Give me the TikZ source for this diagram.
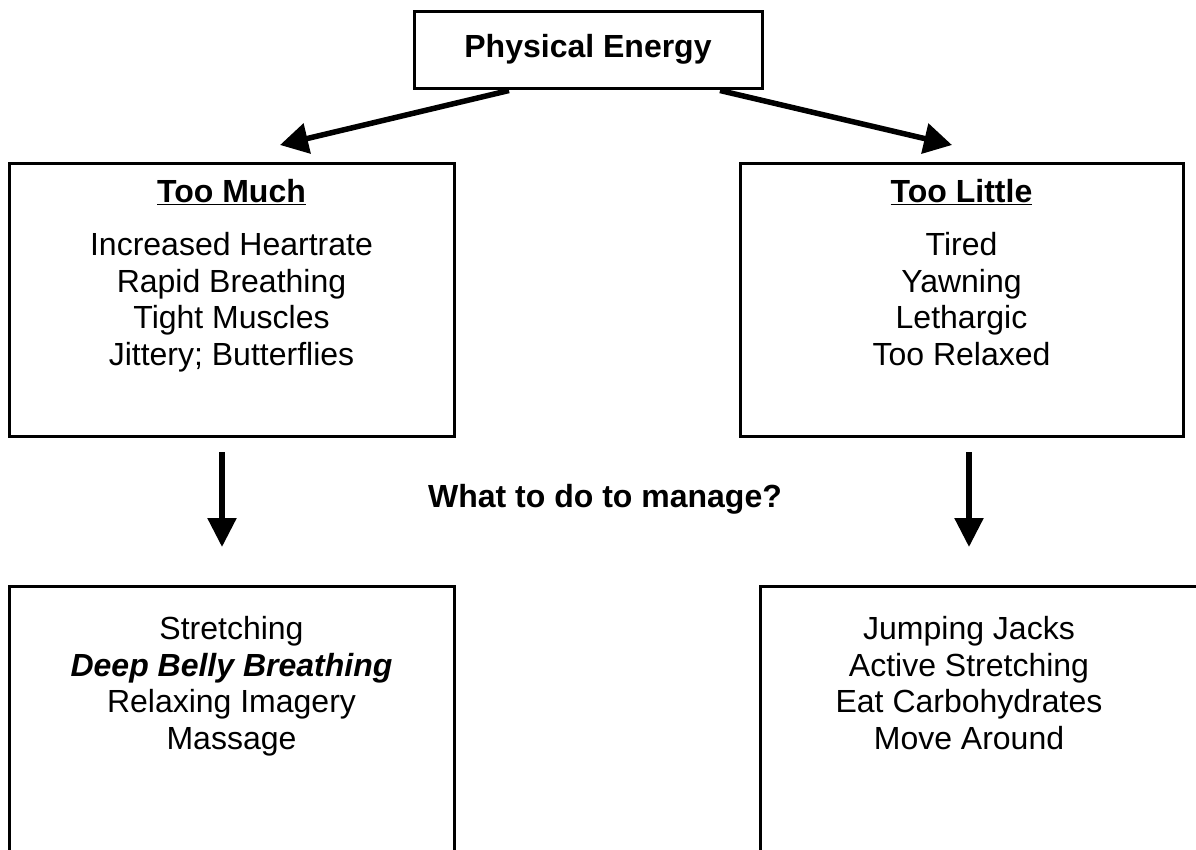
\documentclass[tikz,border=0pt]{standalone}
\usepackage{fontspec}
\setmainfont{Liberation Sans}
\usetikzlibrary{arrows.meta,calc}
\begin{document}
\begin{tikzpicture}[x=1pt,y=1pt,
  box/.style={draw=black,line width=3pt,rectangle,inner sep=0pt},
  txt/.style={font=\fontsize{32}{36.5}\selectfont,align=center,inner sep=0pt,anchor=north},
  btxt/.style={txt,font=\fontsize{32}{36.5}\selectfont\bfseries},
  bigarrow/.style={line width=5.5pt,-{Triangle[length=28pt,width=30pt]}},
  downarrow/.style={line width=5.5pt,-{Triangle[length=29pt,width=28pt]}}]
\useasboundingbox (0,0) rectangle (1196,-850);
\clip (0,0) rectangle (1196,-850);
% boxes
\node[box,minimum width=348pt,minimum height=77pt] (top) at (588,-50.5) {};
\node[box,minimum width=445pt,minimum height=272pt] (much) at (231.5,-300) {};
\node[box,minimum width=443pt,minimum height=272pt] (little) at (961.5,-300) {};
\node[box,minimum width=445pt,minimum height=330pt] (mgmtL) at (231.5,-751) {};
\node[box,minimum width=500pt,minimum height=330pt] (mgmtR) at (1010,-751) {};
% texts
\node[btxt,anchor=center] (toptxt) at (top.center) {\strut Physical Energy};
\node[btxt] (muchtitle) at (231.5,-177) {\strut\underline{Too Much}};
\node[txt] (muchtxt) at (231.5,-230) {\strut Increased Heartrate\\\strut Rapid Breathing\\\strut Tight Muscles\\\strut Jittery; Butterflies};
\node[btxt] (littletitle) at (961.5,-177) {\strut\underline{Too Little}};
\node[txt] (littletxt) at (961.5,-230) {\strut Tired\\\strut Yawning\\\strut Lethargic\\\strut Too Relaxed};
\node[btxt,anchor=center] (question) at (605,-500) {\strut What to do to manage?};
\node[txt] (mgmtLtxt) at (231.5,-614) {\strut Stretching\\\strut\textbf{\itshape Deep Belly Breathing}\\\strut Relaxing Imagery\\\strut Massage};
\node[txt] (mgmtRtxt) at (969,-614) {\strut Jumping Jacks\\\strut Active Stretching\\\strut Eat Carbohydrates\\\strut Move Around};
% connectors
\coordinate (s1) at ($(top.south)+(-79,0)$);
\coordinate (s2) at ($(top.south)+(132,0)$);
\coordinate (t1) at (280,-145);
\coordinate (t2) at (952,-145);
\draw[bigarrow] (s1) -- (t1);
\draw[bigarrow] (s2) -- (t2);
\coordinate (d1s) at (222,-452);
\coordinate (d1e) at (222,-547);
\coordinate (d2s) at (969,-452);
\coordinate (d2e) at (969,-547);
\draw[downarrow] (d1s) -- (d1e);
\draw[downarrow] (d2s) -- (d2e);
\end{tikzpicture}
\end{document}
